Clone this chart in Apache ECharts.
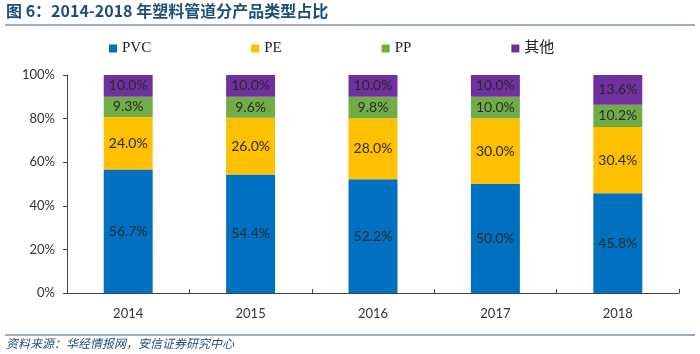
<!DOCTYPE html>
<html>
<head>
<meta charset="utf-8">
<script src="https://cdn.jsdelivr.net/npm/echarts@6/dist/echarts.min.js"></script>
<style>
  html, body { margin: 0; padding: 0; background: #fff; }
  #chart { width: 700px; height: 354px; }
</style>
</head>
<body>
<div id="chart"></div>
<script>
const years = ['2014', '2015', '2016', '2017', '2018']
const pvc = [56.7, 54.4, 52.2, 50.0, 45.8]
const pe = [24.0, 26.0, 28.0, 30.0, 30.4]
const pp = [9.3, 9.6, 9.8, 10.0, 10.2]
const other = [10.0, 10.0, 10.0, 10.0, 13.6]
const yTicks = [0, 20, 40, 60, 80, 100]

const chart = echarts.init(document.getElementById('chart'))

const serif = '"Liberation Serif", "Times New Roman", serif'
const cjk = '"Noto Sans CJK SC", sans-serif'

function makeSeries(name, data, color) {
  return {
    name: name,
    type: 'bar',
    stack: 'total',
    barWidth: '40%',
    itemStyle: { color: color },
    label: {
      show: true,
      position: 'inside',
      color: '#2a2a2a',
      fontFamily: 'Lato',
      fontSize: 14,
      formatter: p => p.value.toFixed(1) + '%'
    },
    data: data
  }
}

const option = {
  animation: false,
  textStyle: { fontFamily: serif },
  legend: {
    top: 36,
    left: 104,
    itemWidth: 8,
    itemHeight: 8,
    itemGap: 100,
    icon: 'rect',
    textStyle: { fontFamily: serif + ', ' + cjk, fontSize: 15, color: '#222' },
    data: ['PVC', 'PE', 'PP', '其他']
  },
  grid: { left: 67, right: 21, top: 75, bottom: 61 },
  xAxis: {
    type: 'category',
    data: years,
    axisLine: { lineStyle: { color: '#444' } },
    axisTick: { show: true, alignWithLabel: false, length: 4, inside: true, lineStyle: { color: '#444' } },
    axisLabel: { color: '#333', fontFamily: 'Lato', fontSize: 13, margin: 14 }
  },
  yAxis: {
    type: 'value',
    min: 0,
    max: 100,
    interval: 20,
    splitLine: { show: false },
    axisLine: { show: true, lineStyle: { color: '#444' } },
    axisTick: { show: true, length: 4, lineStyle: { color: '#444' } },
    axisLabel: {
      color: '#333',
      fontFamily: 'Lato',
      fontSize: 13,
      margin: 12,
      formatter: v => (yTicks.includes(v) ? v + '%' : '')
    }
  },
  series: [
    makeSeries('PVC', pvc, '#0070C0'),
    makeSeries('PE', pe, '#FFC000'),
    makeSeries('PP', pp, '#70AD47'),
    makeSeries('其他', other, '#7030A0')
  ],
  graphic: [
    {
      type: 'text',
      left: 6,
      top: 3,
      style: {
        text: '图 6：2014-2018 年塑料管道分产品类型占比',
        fill: '#1F4E79',
        font: 'bold 16px "Noto Sans CJK SC", sans-serif'
      }
    },
    {
      type: 'line',
      shape: { x1: 5, y1: 25, x2: 695, y2: 25 },
      style: { stroke: '#7F8FB8', lineWidth: 1.5 }
    },
    {
      type: 'line',
      shape: { x1: 5, y1: 335, x2: 695, y2: 335 },
      style: { stroke: '#7F8FB8', lineWidth: 1.5 }
    },
    {
      type: 'text',
      left: 6,
      top: 337,
      style: {
        text: '资料来源：华经情报网，安信证券研究中心',
        fill: '#1F4E79',
        font: 'italic 12px "Noto Sans CJK SC", sans-serif'
      }
    }
  ]
}

chart.setOption(option)
</script>
</body>
</html>
